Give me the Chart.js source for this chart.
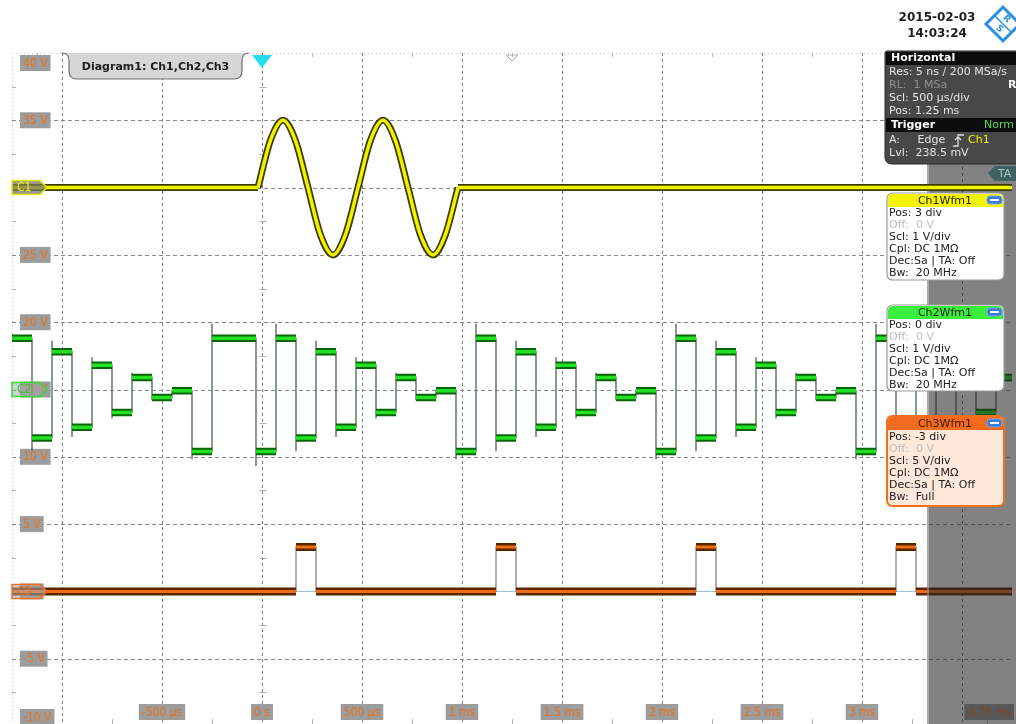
<!DOCTYPE html>
<html>
<head>
<meta charset="utf-8">
<script src="https://cdn.jsdelivr.net/npm/chart.js@4.4.1/dist/chart.umd.min.js"></script>
<style>
  html, body { margin: 0; padding: 0; background: #fff; overflow: hidden; }
  #wrap { position: relative; width: 1016px; height: 724px; overflow: hidden; }
  canvas { position: absolute; left: 0; top: 0; }
</style>
</head>
<body>
<div id="wrap"><canvas id="scope" width="1016" height="740"></canvas></div>
<script>
// time in µs, volts in screen units (5 V/div grid)
const timeRange = [-1250, 3750];
const voltRange = [-10, 40];
const gridTimes = [-1000, -500, 0, 500, 1000, 1500, 2000, 2500, 3000, 3500];
const gridVolts = [35, 30, 25, 20, 15, 10, 5, 0, -5];
const timeTickValues = [-500, 0, 500, 1000, 1500, 2000, 2500, 3000];
const timeTickLabels = ['-500 µs', '0 s', '500 µs', '1 ms', '1.5 ms', '2 ms', '2.5 ms', '3 ms'];
const endTimeLabel = '3.75 ms';
const voltTickValues = [40, 35, 25, 20, 15, 10, 5, 0, -5, -10];
const voltTickLabels = ['40 V', '35 V', '25 V', '20 V', '15 V', '10 V', '5 V', '0 V', '-5 V', '-10 V'];
const shadeFrom = 3325;
const triggerTime = 0;
const centerTime = 1250;

// Ch1: sine burst on the 30 V line
const ch1Times = [-1250, -20, 42, 105, 167, 230, 292, 355, 417, 480, 542, 605, 667, 730, 792, 855, 917, 980, 3750];
const ch1Volts = [30, 30, 33.5, 35, 33.5, 30, 26.5, 25, 26.5, 30, 33.5, 35, 33.5, 30, 26.5, 25, 26.5, 30, 30];

// Ch2: staircase, step boundaries (one more than levels)
const ch2Times = [-1250, -1150, -1050, -950, -850, -750, -650, -550, -450, -350, -250, -30,
  70, 170, 270, 370, 470, 570, 670, 770, 870, 970,
  1070, 1170, 1270, 1370, 1470, 1570, 1670, 1770, 1870, 1970,
  2070, 2170, 2270, 2370, 2470, 2570, 2670, 2770, 2870, 2970,
  3070, 3170, 3270, 3370, 3470, 3570, 3670, 3750];
const ch2Volts = [18.8, 11.4, 17.8, 12.2, 16.8, 13.3, 15.9, 14.4, 14.9, 10.4,
  18.8, 10.4,
  18.8, 11.4, 17.8, 12.2, 16.8, 13.3, 15.9, 14.4, 14.9, 10.4,
  18.8, 11.4, 17.8, 12.2, 16.8, 13.3, 15.9, 14.4, 14.9, 10.4,
  18.8, 11.4, 17.8, 12.2, 16.8, 13.3, 15.9, 14.4, 14.9, 10.4,
  18.8, 11.4, 17.8, 12.2, 16.8, 13.3, 15.9];

// Ch3: pulses
const ch3Times = [-1250, 170, 270, 1170, 1270, 2170, 2270, 3170, 3270, 3750];
const ch3Volts = [0, 3.3, 0, 3.3, 0, 3.3, 0, 3.3, 0];

const LABEL_FONT = '12px "DejaVu Sans Condensed", "DejaVu Sans", sans-serif';
const PANEL_FONT = '11px "DejaVu Sans", sans-serif';

function levelRuns(times, volts) {
  const pts = [];
  volts.forEach((v, i) => {
    pts.push({ x: times[i], y: v }, { x: times[i + 1], y: v }, { x: times[i + 1], y: null });
  });
  return pts;
}
function edgePath(times, volts, ring) {
  const pts = [{ x: times[0], y: volts[0] }];
  for (let i = 1; i < volts.length; i++) {
    const a = volts[i - 1], b = volts[i], t = times[i];
    pts.push({ x: t, y: a }, { x: t, y: b + (b - a) * ring }, { x: t, y: b });
  }
  pts.push({ x: times[times.length - 1], y: volts[volts.length - 1] });
  return pts;
}

const n1 = ch1Times.length;
const ch1Burst = ch1Times.slice(1, n1 - 1).map((t, i) => ({ x: t, y: ch1Volts[i + 1] }));
const ch1Base = [
  { x: ch1Times[0], y: ch1Volts[0] }, { x: ch1Times[1], y: ch1Volts[1] }, { x: ch1Times[1], y: null },
  { x: ch1Times[n1 - 2], y: ch1Volts[n1 - 2] }, { x: ch1Times[n1 - 1], y: ch1Volts[n1 - 1] }
];

function line(data, color, width, extra) {
  return Object.assign({ data, borderColor: color, borderWidth: width, pointRadius: 0,
    fill: false, spanGaps: false, tension: 0 }, extra || {});
}

const datasets = [
  line(ch1Burst, '#f2f200', 3.5, { cubicInterpolationMode: 'monotone' }),
  line(ch1Base, '#f2f200', 3.5),
  line(ch1Burst, '#3c3c00', 7, { cubicInterpolationMode: 'monotone' }),
  line(ch1Base, '#3c3c00', 7),
  line(levelRuns(ch2Times, ch2Volts), '#22e022', 3.5),
  line(levelRuns(ch2Times, ch2Volts), '#0a640a', 7.5),
  line(edgePath(ch2Times, ch2Volts, 0.13), '#56725a', 1.4),
  line(levelRuns(ch3Times, ch3Volts), '#f26c14', 3),
  line(levelRuns(ch3Times, ch3Volts), '#5a2600', 8),
  line(edgePath(ch3Times, ch3Volts, 0), '#8e7e76', 1.3),
  line([{ x: timeRange[0], y: 0 }, { x: timeRange[1], y: 0 }], '#9cc4dc', 1)
];

function rr(ctx, x, y, w, h, r) {
  ctx.beginPath();
  ctx.moveTo(x + r[0], y);
  ctx.lineTo(x + w - r[1], y); ctx.quadraticCurveTo(x + w, y, x + w, y + r[1]);
  ctx.lineTo(x + w, y + h - r[2]); ctx.quadraticCurveTo(x + w, y + h, x + w - r[2], y + h);
  ctx.lineTo(x + r[3], y + h); ctx.quadraticCurveTo(x, y + h, x, y + h - r[3]);
  ctx.lineTo(x, y + r[0]); ctx.quadraticCurveTo(x, y, x + r[0], y);
  ctx.closePath();
}

function tag(ctx, text, x, cy, align, fill, color) {
  ctx.font = LABEL_FONT;
  const w = ctx.measureText(text).width + 6, h = 16;
  const left = align === 'left' ? x : align === 'right' ? x - w : x - w / 2;
  ctx.fillStyle = fill;
  ctx.fillRect(left, cy - h / 2, w, h);
  ctx.fillStyle = color;
  ctx.textAlign = 'left';
  ctx.textBaseline = 'middle';
  ctx.fillText(text, left + 3, cy + 0.5);
}

const gridPlugin = {
  id: 'scopeGrid',
  beforeDatasetsDraw(chart) {
    const { ctx, chartArea: a, scales: { x, y } } = chart;
    ctx.save();
    // outer frame, dotted
    ctx.strokeStyle = '#c4c4c4'; ctx.lineWidth = 1; ctx.setLineDash([1, 3]);
    ctx.beginPath();
    ctx.moveTo(a.left + 0.5, a.bottom); ctx.lineTo(a.left + 0.5, a.top + 0.5); ctx.lineTo(a.right, a.top + 0.5);
    ctx.stroke();
    // dashed grid
    ctx.strokeStyle = '#7c7c7c'; ctx.setLineDash([3, 3]);
    gridTimes.forEach(t => {
      const px = Math.round(x.getPixelForValue(t)) + 0.5;
      ctx.beginPath(); ctx.moveTo(px, a.top); ctx.lineTo(px, a.bottom); ctx.stroke();
    });
    ctx.strokeStyle = '#8a8a8a'; ctx.setLineDash([4, 3]);
    gridVolts.forEach(v => {
      const py = Math.round(y.getPixelForValue(v)) + 0.5;
      ctx.beginPath(); ctx.moveTo(a.left, py); ctx.lineTo(a.right, py); ctx.stroke();
    });
    // small ticks at half divisions
    ctx.setLineDash([]); ctx.strokeStyle = '#b0b0b0';
    const tx = Math.round(x.getPixelForValue(triggerTime)) + 0.5;
    const allV = [voltRange[1]].concat(gridVolts, [voltRange[0]]);
    for (let i = 0; i < allV.length - 1; i++) {
      const py = Math.round(y.getPixelForValue((allV[i] + allV[i + 1]) / 2)) + 0.5;
      ctx.beginPath();
      ctx.moveTo(a.left, py); ctx.lineTo(a.left + 4, py);
      ctx.moveTo(tx - 3, py); ctx.lineTo(tx + 4, py);
      ctx.stroke();
    }
    const allT = [timeRange[0]].concat(gridTimes, [timeRange[1]]);
    for (let i = 0; i < allT.length - 1; i++) {
      const px = Math.round(x.getPixelForValue((allT[i] + allT[i + 1]) / 2)) + 0.5;
      ctx.beginPath();
      ctx.moveTo(px, a.top); ctx.lineTo(px, a.top + 4);
      ctx.moveTo(px, 724); ctx.lineTo(px, 719);
      ctx.stroke();
    }
    // axis value tags
    voltTickValues.forEach((v, i) => {
      let cy = y.getPixelForValue(v);
      cy = Math.min(Math.max(cy, a.top + 10), 717);
      tag(ctx, voltTickLabels[i], 20, cy, 'left', '#9c9c9c', '#e8731e');
    });
    timeTickValues.forEach((t, i) => {
      tag(ctx, timeTickLabels[i], x.getPixelForValue(t), 712, 'center', '#9c9c9c', '#e8731e');
    });
    tag(ctx, endTimeLabel, x.getPixelForValue(timeRange[1]) + 2, 712, 'right', '#9c9c9c', '#e8731e');
    ctx.restore();
    chart.$shaded = false;
  },
  beforeDatasetDraw(chart, args) {
    // shaded region goes over Ch2/Ch3, under Ch1
    if (args.index > 3 || chart.$shaded) return;
    chart.$shaded = true;
    const { ctx, chartArea: a, scales: { x } } = chart;
    const sx = Math.round(x.getPixelForValue(shadeFrom));
    ctx.save();
    ctx.fillStyle = 'rgba(40,40,40,0.58)';
    ctx.fillRect(sx, a.top, chart.width - sx, chart.height - a.top);
    ctx.fillStyle = 'rgba(255,255,255,0.3)';
    ctx.fillRect(sx, a.top, 2, chart.height - a.top);
    ctx.restore();
  }
};

function marker(ctx, cy, text, stroke, fill, color) {
  ctx.beginPath();
  ctx.moveTo(12, cy - 7); ctx.lineTo(40, cy - 7); ctx.lineTo(47, cy);
  ctx.lineTo(40, cy + 7); ctx.lineTo(12, cy + 7); ctx.closePath();
  ctx.fillStyle = fill; ctx.fill();
  ctx.strokeStyle = stroke; ctx.lineWidth = 1.5; ctx.stroke();
  ctx.font = LABEL_FONT; ctx.fillStyle = color;
  ctx.textAlign = 'left'; ctx.textBaseline = 'middle';
  ctx.fillText(text, 17, cy + 0.5);
}

function chanPanel(ctx, top, bottom, head, headText, body, border, bw, title, rows, ys) {
  const left = 887, w = 117;
  rr(ctx, left, top, w, bottom - top, [6, 6, 6, 6]);
  ctx.fillStyle = body; ctx.fill();
  ctx.strokeStyle = border; ctx.lineWidth = bw; ctx.stroke();
  rr(ctx, left + 1, top + 1, w - 2, 13, [5, 5, 0, 0]);
  ctx.fillStyle = head; ctx.fill();
  ctx.font = PANEL_FONT; ctx.textAlign = 'center'; ctx.textBaseline = 'middle';
  ctx.fillStyle = headText;
  ctx.fillText(title, left + 58, top + 8);
  // minimize button
  rr(ctx, 987, top + 3, 15, 8, [3, 3, 3, 3]);
  ctx.fillStyle = '#3d7bd6'; ctx.fill();
  ctx.strokeStyle = '#7aa8e8'; ctx.lineWidth = 1; ctx.stroke();
  ctx.fillStyle = '#fff'; ctx.fillRect(990, top + 6, 9, 2);
  ctx.textAlign = 'left';
  rows.forEach((r, i) => {
    ctx.fillStyle = i === 1 ? '#bdbdbd' : '#202020';
    ctx.fillText(r, 889, ys[i]);
  });
}

const overlayPlugin = {
  id: 'scopeOverlay',
  afterDraw(chart) {
    const { ctx, chartArea: a, scales: { x, y } } = chart;
    ctx.save();
    // channel markers
    marker(ctx, y.getPixelForValue(30), 'C1', '#e8e800', 'rgba(120,120,100,0.75)', '#f4f400');
    marker(ctx, y.getPixelForValue(15), 'C2', '#33dd33', 'rgba(170,170,170,0.55)', '#33cc33');
    marker(ctx, y.getPixelForValue(0), 'C3', '#f07020', 'rgba(170,170,170,0.55)', '#e86a18');

    // diagram tab
    ctx.beginPath();
    ctx.moveTo(62, a.top);
    ctx.quadraticCurveTo(69, a.top, 69, a.top + 8);
    ctx.lineTo(69, a.top + 18); ctx.quadraticCurveTo(69, a.top + 26, 77, a.top + 26);
    ctx.lineTo(234, a.top + 26); ctx.quadraticCurveTo(242, a.top + 26, 242, a.top + 18);
    ctx.lineTo(242, a.top + 8); ctx.quadraticCurveTo(242, a.top, 249, a.top);
    ctx.fillStyle = '#d6d6d6'; ctx.fill();
    ctx.strokeStyle = '#6e6e6e'; ctx.lineWidth = 1.2; ctx.stroke();
    ctx.font = 'bold 11px "DejaVu Sans", sans-serif';
    ctx.fillStyle = '#202020'; ctx.textAlign = 'center'; ctx.textBaseline = 'middle';
    ctx.fillText('Diagram1: Ch1,Ch2,Ch3', 155.5, a.top + 14);

    // trigger position and horizontal center markers
    const tx = x.getPixelForValue(triggerTime);
    ctx.beginPath();
    ctx.moveTo(tx - 10, a.top + 2); ctx.lineTo(tx + 10, a.top + 2); ctx.lineTo(tx, a.top + 15); ctx.closePath();
    ctx.fillStyle = '#28dcea'; ctx.fill();
    const cx = x.getPixelForValue(centerTime);
    ctx.beginPath();
    ctx.moveTo(cx - 6, a.top + 2); ctx.lineTo(cx + 6, a.top + 2); ctx.lineTo(cx, a.top + 8); ctx.closePath();
    ctx.strokeStyle = '#b4b4b4'; ctx.lineWidth = 1; ctx.stroke();

    // date / time stamp
    ctx.font = 'bold 12px "DejaVu Sans", sans-serif';
    ctx.fillStyle = '#1e1e1e'; ctx.textAlign = 'center';
    ctx.fillText('2015-02-03', 937, 18);
    ctx.fillText('14:03:24', 937, 34);

    // logo
    ctx.save();
    ctx.translate(1003, 24); ctx.rotate(Math.PI / 4);
    ctx.strokeStyle = '#2e90e2'; ctx.lineWidth = 3;
    ctx.strokeRect(-12, -12, 24, 24);
    ctx.lineWidth = 1.5;
    ctx.beginPath(); ctx.moveTo(-12, 0); ctx.lineTo(12, 0); ctx.stroke();
    ctx.fillStyle = '#2e90e2'; ctx.font = 'bold 9px "DejaVu Sans", sans-serif';
    ctx.fillText('R', -1, -6); ctx.fillText('S', 1, 6);
    ctx.restore();

    // horizontal / trigger panel
    rr(ctx, 885, 51, 140, 113, [2, 2, 7, 7]);
    ctx.fillStyle = '#484848'; ctx.fill();
    ctx.strokeStyle = '#2a2a2a'; ctx.lineWidth = 1; ctx.stroke();
    ctx.fillStyle = '#0c0c0c';
    ctx.fillRect(886, 52, 132, 13);
    ctx.fillRect(886, 118, 132, 14);
    ctx.textAlign = 'left'; ctx.textBaseline = 'middle';
    ctx.font = 'bold 11px "DejaVu Sans", sans-serif'; ctx.fillStyle = '#ffffff';
    ctx.fillText('Horizontal', 891, 58.5);
    ctx.fillText('Trigger', 891, 125);
    ctx.fillText('R', 1008, 85);
    ctx.font = PANEL_FONT;
    ctx.fillStyle = '#e4e4e4';
    ctx.fillText('Res: 5 ns / 200 MSa/s', 889, 72);
    ctx.fillText('Scl: 500 µs/div', 889, 98);
    ctx.fillText('Pos: 1.25 ms', 889, 111);
    ctx.fillText('A:     Edge', 889, 140);
    ctx.fillText('Lvl:  238.5 mV', 889, 153);
    ctx.fillStyle = '#8e8e8e';
    ctx.fillText('RL:  1 MSa', 889, 85);
    ctx.fillStyle = '#55dd55';
    ctx.fillText('Norm', 984, 125);
    ctx.fillStyle = '#f0f000';
    ctx.fillText('Ch1', 968, 140);
    ctx.strokeStyle = '#dcdcdc'; ctx.lineWidth = 1.3;
    ctx.beginPath();
    ctx.moveTo(953, 146); ctx.lineTo(958, 146); ctx.lineTo(958, 135); ctx.lineTo(964, 135);
    ctx.moveTo(955, 140); ctx.lineTo(958, 137); ctx.lineTo(961, 140);
    ctx.stroke();

    // TA tag
    ctx.beginPath();
    ctx.moveTo(988, 173); ctx.lineTo(995, 166); ctx.lineTo(1016, 166); ctx.lineTo(1016, 181); ctx.lineTo(995, 181); ctx.closePath();
    ctx.fillStyle = '#3e6262'; ctx.fill();
    ctx.fillStyle = '#a6c6c6'; ctx.font = PANEL_FONT;
    ctx.fillText('TA', 998, 174);

    // channel panels
    chanPanel(ctx, 193, 280, '#f4f400', '#202020', '#ffffff', '#9a9a9a', 1.2, 'Ch1Wfm1',
      ['Pos: 3 div', 'Off:  0 V', 'Scl: 1 V/div', 'Cpl: DC 1MΩ', 'Dec:Sa | TA: Off', 'Bw:  20 MHz'],
      [213, 225, 237, 249, 261, 273]);
    chanPanel(ctx, 305, 391, '#3cee3c', '#202020', '#ffffff', '#9a9a9a', 1.2, 'Ch2Wfm1',
      ['Pos: 0 div', 'Off:  0 V', 'Scl: 1 V/div', 'Cpl: DC 1MΩ', 'Dec:Sa | TA: Off', 'Bw:  20 MHz'],
      [325, 337, 349, 361, 373, 385]);
    chanPanel(ctx, 416, 506, '#f26a1e', '#3a1a08', '#fde8da', '#f07020', 2, 'Ch3Wfm1',
      ['Pos: -3 div', 'Off:  0 V', 'Scl: 5 V/div', 'Cpl: DC 1MΩ', 'Dec:Sa | TA: Off', 'Bw:  Full'],
      [437, 449, 461, 473, 485, 497]);
    ctx.restore();
  }
};

const chart = new Chart(document.getElementById('scope').getContext('2d'), {
  type: 'line',
  data: { datasets },
  options: {
    responsive: false,
    animation: false,
    devicePixelRatio: 1,
    events: [],
    layout: { padding: { left: 12, right: 4, top: 53, bottom: 14 } },
    scales: {
      x: { type: 'linear', display: false, min: timeRange[0], max: timeRange[1] },
      y: { type: 'linear', display: false, min: voltRange[0], max: voltRange[1] }
    },
    elements: { line: { borderCapStyle: 'butt', borderJoinStyle: 'miter' } },
    plugins: { legend: { display: false }, tooltip: { enabled: false } }
  },
  plugins: [gridPlugin, overlayPlugin]
});
</script>
</body>
</html>
